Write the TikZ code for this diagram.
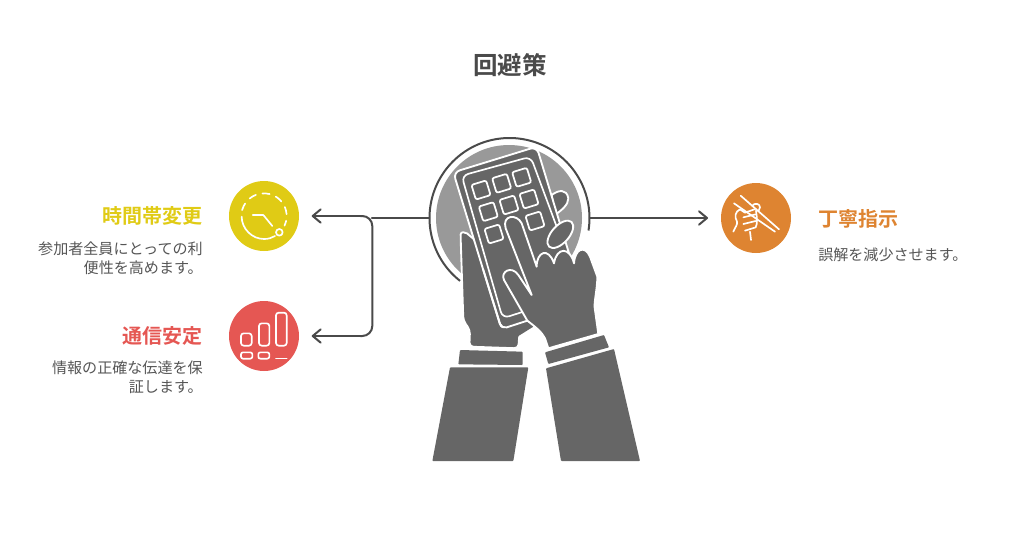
\documentclass[tikz,border=0pt]{standalone}
\usepackage{fontspec}
\setmainfont{Noto Sans CJK JP}[BoldFont={Noto Sans CJK JP Bold}]
\usetikzlibrary{arrows.meta,calc}
\definecolor{ink}{HTML}{666666}
\definecolor{wire}{HTML}{4A4A4A}
\definecolor{disc}{HTML}{999999}
\definecolor{bodytext}{HTML}{555555}
\definecolor{cyellow}{HTML}{E0CB15}
\definecolor{cred}{HTML}{E55753}
\definecolor{corange}{HTML}{DE8431}
\tikzset{
  link/.style={draw=wire,line width=1.5pt,line cap=round,line join=round},
  tip/.style={-{Straight Barb[length=6pt,width=10pt,line width=1.5pt,round]}},
  badge/.style={circle,minimum size=52.5pt,inner sep=0pt,fill=#1},
  heading/.style={font=\bfseries\fontsize{15}{18}\selectfont,text=#1,inner sep=0pt},
  blurb/.style={font=\fontsize{11.3}{14.2}\selectfont,text=bodytext,inner sep=0pt},
  art/.style={fill=ink,draw=white,line width=1.4pt,line join=round},
  solidart/.style={fill=ink,rounded corners=0.6pt},
  glyph/.style={draw=white,line width=1.25pt,line cap=round,line join=round,fill=none},
  keycap/.style={draw=white,line width=1.3pt,rounded corners=1.5pt,fill=ink},
}
\begin{document}
\begin{tikzpicture}[x=0.75pt,y=-0.75pt]
\useasboundingbox (0,0) rectangle (1020,540);

% Title
\node[font=\bfseries\fontsize{18.4}{22}\selectfont,text=wire,inner sep=0pt] (title) at (510,65) {回避策};

% Central illustration: disc, ring
\fill[disc] (509,218) circle (73);
\node[circle,minimum size=120pt,inner sep=0pt] (hub) at (509.5,218) {};
\draw[wire,line width=1.5pt] (509.5,218) ++(128.2:80) arc[start angle=128.2,end angle=369,radius=80];

\begin{scope}[shift={(420,130)},x=0.25pt,y=-0.25pt]
  % Left hand and fingertip behind the phone
  \draw[art] (395,195) .. controls (415,180) and (440,175) .. (445,205) .. controls (445,225) and (425,240) .. (405,255) -- cycle;
  \draw[art,rounded corners=3pt] (122,325) .. controls (122,305) and (135,305) .. (150,318) .. controls (165,330) and (172,345) .. (178,375)
    -- (300,560) -- (322,583) -- (298,612) -- (295,655) -- (148,650) -- (150,600) -- (130,572) -- cycle;
  % Phone body
  \draw[art,rounded corners=5pt] (100,127) -- (350,50) -- (500,545) -- (245,600) -- cycle;
  \draw[draw=none,fill=ink] (245,590) -- (330,565) -- (340,590) -- (260,640) -- cycle;
  \draw[glyph,line width=1.4pt,rounded corners=4pt] (322,572) -- (245,597) -- (190,420);
  % Screen edge
  \draw[glyph,rounded corners=5pt] (310,545) -- (248,565) -- (125,137) -- (332,80) -- (410,290);
  % Keys
  \foreach \kx/\ky in {183/180,245/160,305/142,205/245,267/225,327/207,222/312,345/273}
    \draw[keycap,shift={(\kx,\ky)},rotate=17] (-23,-23) rectangle (23,23);
  % Raised fingertip
  \draw[art,rotate around={48:(421,313)}] (421,313) ellipse [x radius=50,y radius=26];
  % Right hand
  \draw[art] (385,655) -- (375,625) .. controls (365,605) and (345,590) .. (322,572) -- (252,450)
    .. controls (240,425) and (275,405) .. (295,435) -- (335,495) -- (257,295)
    .. controls (245,255) and (290,250) .. (305,280) -- (350,410)
    .. controls (350,365) and (385,350) .. (402,400)
    .. controls (410,350) and (450,350) .. (462,400)
    .. controls (465,355) and (495,345) .. (510,380) -- (532,440)
    .. controls (532,480) and (520,520) .. (525,540) -- (535,612) -- cycle;
  % Cuffs and sleeves
  \fill[solidart] (120,660) -- (308,665) -- (308,705) -- (115,703) -- cycle;
  \fill[solidart] (90,712) -- (325,712) -- (280,993) -- (37,993) -- cycle;
  \fill[solidart] (375,667) -- (552,615) -- (567,652) -- (385,702) -- cycle;
  \fill[solidart] (378,715) -- (582,657) -- (660,993) -- (423,993) -- cycle;
\end{scope}

% Badges
\node[badge=cyellow] (clock) at (264,216) {};
\node[badge=cred] (bars) at (264,336) {};
\node[badge=corange] (grip) at (756,218) {};

\begin{scope}[shift={(220,170)},x=0.25pt,y=-0.25pt]
  % Clock glyph
  \draw[glyph] (65,140) .. controls (65,175) and (95,207) .. (132,207) .. controls (145,207) and (155,204) .. (165,198);
  \draw[glyph,dash pattern=on 5.5pt off 5pt] (132,138) ++(195:68) arc[start angle=195,end angle=385,radius=68];
  \draw[glyph] (178,187) circle (10);
  \draw[glyph] (98,135) -- (130,135) -- (157,168);
  % Signal bars glyph
  \draw[glyph,rounded corners=2pt] (63,490) rectangle (95,527);
  \draw[glyph,rounded corners=2pt] (117,460) rectangle (148,527);
  \draw[glyph,rounded corners=2pt] (168,428) rectangle (200,527);
  \draw[glyph,rounded corners=1.5pt] (63,547) rectangle (97,566);
  \draw[glyph,rounded corners=1.5pt] (115,547) rectangle (148,566);
  \draw[glyph] (168,565) -- (200,565);
\end{scope}

% Fist and chopsticks glyph
\begin{scope}[shift={(725,190)},x=0.25pt,y=-0.25pt]
  \draw[glyph] (47,17) -- (162,118);
  \draw[glyph] (27,40) -- (150,125);
  \draw[glyph] (25,125) .. controls (30,112) and (38,105) .. (36,95) .. controls (28,80) and (30,65) .. (45,58) -- (60,68) -- (88,58);
  \draw[glyph] (55,82) -- (92,73);
  \draw[glyph] (55,102) -- (92,93);
  \draw[glyph] (60,122) -- (92,112) .. controls (98,100) and (96,85) .. (93,62);
  \draw[glyph] (75,125) -- (78,150);
  \draw[glyph] (82,47) .. controls (88,38) and (105,40) .. (105,52) -- (101,62);
\end{scope}

% Connectors
\coordinate (fork) at (371.7,218);
\coordinate (clockin) at (311.7,216);
\coordinate (barsin) at (311.7,336);
\coordinate (gripin) at (708,218);
\coordinate (bendtop) at (372.3,216);
\coordinate (bendlow) at (372.3,336);
\draw[link,line width=1.2pt] (hub.west) -- (fork);
\draw[link,tip] (bendtop) ++(-12,0) -- (clockin);
\draw[link,tip] (bendlow) ++(-12,0) -- (barsin);
\draw[link,rounded corners=7.5pt] ($(bendtop)+(-12,0)$) -- (bendtop) -- (bendlow) -- ($(bendlow)+(-12,0)$);
\draw[link,tip,line width=1.2pt] (hub.east) -- (gripin);

% Labels
\node[heading=cyellow,anchor=east] (h1) at (203,216) {時間帯変更};
\node[blurb,anchor=north east,align=right] (b1) at (203,241.5) {参加者全員にとっての利\\便性を高めます。};
\node[heading=cred,anchor=east] (h2) at (203,336) {通信安定};
\node[blurb,anchor=north east,align=right] (b2) at (203,361) {情報の正確な伝達を保\\証します。};
\node[heading=corange,anchor=west] (h3) at (818,219) {丁寧指示};
\node[blurb,anchor=west] (b3) at (818,254.5) {誤解を減少させます。};
\end{tikzpicture}
\end{document}
